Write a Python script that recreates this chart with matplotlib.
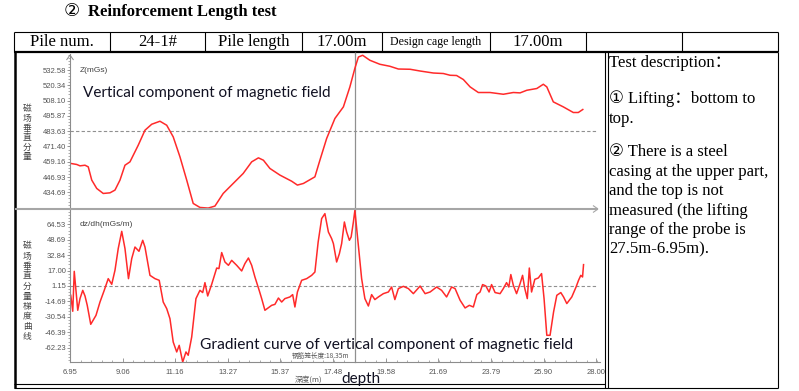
import matplotlib
matplotlib.use('Agg')
import matplotlib.pyplot as plt
from matplotlib.lines import Line2D
from matplotlib.ticker import AutoMinorLocator

W, H = 799, 391

# vertical component Z (mGs) against depth (m)
z_depth = [6.99, 7.22, 7.35, 7.55, 7.68, 7.82, 8.02, 8.28, 8.55, 8.75, 8.95, 9.15, 9.35,
           9.68, 9.95, 10.22, 10.55, 10.82, 11.08, 11.35, 11.62, 11.88, 12.15, 12.48, 12.75,
           13.08, 13.48, 13.88, 14.22, 14.49, 14.69, 14.95, 15.35, 15.82, 16.05, 16.29, 16.75,
           16.95, 17.22, 17.55, 17.89, 18.15, 18.35, 18.49, 18.66, 18.95, 19.35, 19.75, 20.09,
           20.56, 20.96, 21.49, 21.89, 22.16, 22.42, 22.69, 22.96, 23.29, 23.76, 24.29, 24.69,
           24.96, 25.23, 25.63, 25.89, 26.03, 26.29, 26.69, 27.09, 27.29, 27.47]
z_value = [457.8, 457.0, 455.9, 456.4, 455.1, 444.5, 437.8, 433.8, 434.3, 436.5, 444.5, 456.4, 459.1,
           472.4, 484.4, 489.2, 491.6, 488.4, 479.1, 463.1, 444.5, 425.8, 422.6, 422.1, 423.7,
           433.8, 441.8, 449.8, 459.1, 462.3, 460.4, 453.8, 448.5, 443.6, 440.5, 441.8, 447.1,
           460.4, 477.8, 493.8, 503.1, 519.1, 534.0, 543.0, 544.4, 540.4, 537.2, 535.6, 533.4,
           533.2, 531.8, 530.2, 529.8, 528.4, 528.2, 525.0, 519.1, 514.6, 514.6, 513.2, 514.6,
           514.3, 516.4, 517.8, 521.2, 519.1, 507.1, 503.1, 498.6, 498.6, 501.0]

# gradient dz/dh (mGs/m) against depth (m)
g_depth = [6.98, 7.06, 7.12, 7.26, 7.35, 7.46, 7.55, 7.64, 7.78, 7.99, 8.15, 8.32, 8.48, 8.62,
           8.75, 8.88, 9.02, 9.15, 9.29, 9.42, 9.55, 9.71, 9.86, 9.95, 10.15, 10.35, 10.52, 10.68,
           10.82, 10.95, 11.08, 11.22, 11.32, 11.46, 11.59, 11.68, 11.82, 11.99, 12.15, 12.26,
           12.35, 12.46, 12.62, 12.82, 12.91, 13.02, 13.15, 13.29, 13.42, 13.62, 13.82, 13.95,
           14.09, 14.22, 14.35, 14.52, 14.62, 14.75, 15.02, 15.15, 15.29, 15.42, 15.55, 15.75,
           15.86, 15.95, 16.05, 16.22, 16.42, 16.62, 16.75, 16.88, 17.02, 17.15, 17.29, 17.42,
           17.49, 17.62, 17.73, 17.82, 17.93, 18.02, 18.13, 18.20, 18.29, 18.35, 18.49, 18.62,
           18.75, 18.89, 19.02, 19.15, 19.29, 19.49, 19.69, 19.82, 19.95, 20.09, 20.29, 20.49,
           20.69, 20.96, 21.16, 21.36, 21.62, 21.82, 22.02, 22.22, 22.36, 22.56, 22.76, 22.93,
           23.09, 23.23, 23.36, 23.46, 23.59, 23.72, 23.82, 23.96, 24.16, 24.29, 24.42, 24.51,
           24.59, 24.69, 24.82, 24.96, 25.06, 25.15, 25.25, 25.33, 25.42, 25.55, 25.69, 25.82,
           25.92, 26.03, 26.16, 26.30, 26.43, 26.59, 26.70, 26.83, 27.03, 27.20, 27.30, 27.39,
           27.46, 27.50]
g_value = [-8.4, -24.8, 16.2, -23.8, -11.8, -3.3, -9.1, -18.7, -38.2, -29.0, -15.3, -3.3, 8.7, 2.9,
           17.3, 39.6, 57.3, 39.6, 8.7, 29.3, 41.2, 36.8, 48.1, 41.2, 12.1, 8.7, 7.0, -15.3,
           -22.1, -32.4, -56.4, -66.6, -59.8, -77.0, -66.6, -70.0, -51.2, -11.8, -3.3, -5.6,
           4.6, -9.1, 2.9, 19.6, 19.0, 35.5, 25.8, 22.4, 27.5, 22.4, 16.6, 24.2,
           29.9, 22.4, 10.4, -3.3, -11.8, -23.8, -18.7, -17.7, -11.2, -15.3, -11.8, -10.1,
           -7.7, -20.4, -5.0, 7.0, 8.7, 12.1, 15.5, 46.3, 70.4, 75.5, 56.6, 49.8,
           44.7, 25.8, 34.4, 44.7, 66.9, 56.6, 48.1, 51.5, 66.9, 78.9, 43.0, 8.7,
           -11.8, -19.4, -7.7, -12.8, -10.1, -6.7, -5.0, 0.1, -12.8, -1.5, 0.8, -1.5,
           -6.7, 1.1, -6.7, -5.0, 0.1, -3.3, -10.1, 0.1, -1.5, -13.5, -21.4, -18.7,
           -20.4, -7.7, -5.0, 2.6, 1.2, -5.0, 2.6, -5.6, -6.7, -1.5, 4.6, 0.1,
           12.9, 1.9, -6.7, 3.6, 12.1, -1.5, -11.8, 19.6, -5.0, 8.0, 9.4, 13.9,
           -11.8, -49.5, -49.5, -25.6, -8.4, -5.6, -10.1, -16.9, -10.1, 0.1, 7.0, 12.1,
           10.4, 23.1]

x_ticks = [6.95, 9.06, 11.16, 13.27, 15.37, 17.48, 19.58, 21.69, 23.79, 25.90, 28.00]
z_ticks = [434.69, 446.93, 459.16, 471.40, 483.63, 495.87, 508.10, 520.34, 532.58]
g_ticks = [-62.23, -46.39, -30.54, -14.69, 1.15, 17.00, 32.84, 48.69, 64.53]
z_ref = 483.63
g_ref = 1.15
cage_len = 18.35

table_cells = ['Pile num.', '24-1#', 'Pile length', '17.00m', 'Design cage length', '17.00m', '', '']
table_edges = [14, 110, 205, 302, 382, 490, 586, 682, 778]
desc_lines = ['Test description：', '① Lifting：bottom to', 'top.',
              '② There is a steel', 'casing at the upper part,', 'and the top is not',
              'measured (the lifting', 'range of the probe is', '27.5m-6.95m).']
desc_rows = [63, 99, 119, 152, 172, 191, 211, 230, 249]

red = '#ff2a2a'
axis_gray = '#8c8c8c'
label_gray = '#555555'
serif = ['Liberation Serif', 'DejaVu Sans', 'Noto Sans CJK SC']
cjk = ['Noto Sans CJK SC', 'DejaVu Sans']

fig = plt.figure(figsize=(W / 100, H / 100), dpi=100)


def fx(px):
    return px / W


def fy(py):
    return 1 - py / H


def seg(x0, y0, x1, y1, lw=1.0, color='black'):
    fig.add_artist(Line2D([fx(x0), fx(x1)], [fy(y0), fy(y1)], lw=lw, color=color,
                          solid_capstyle='butt'))


def stacked(x, y_top, step, chars, **kw):
    # vertical text written one character under the other
    for i, ch in enumerate(chars):
        fig.text(fx(x), fy(y_top + i * step), ch, ha='center', va='center', **kw)


# title and table frame
fig.text(fx(64), fy(12), '②', family=serif, fontsize=13, va='center', ha='left')
fig.text(fx(88), fy(12), 'Reinforcement Length test', family=serif, weight='bold',
         fontsize=12, va='center', ha='left')
seg(14, 32, 778, 32, 0.8)
seg(14, 52, 778, 52, 1.6)
for x in table_edges:
    seg(x, 32, x, 52, 0.8)
for i, txt in enumerate(table_cells):
    cx = (table_edges[i] + table_edges[i + 1]) / 2
    fs = 8.6 if len(txt) > 12 else 12
    fig.text(fx(cx), fy(42.5), txt, family=serif, fontsize=fs, ha='center', va='center')

seg(15, 52, 15, 388, 1.8)
seg(605, 52, 605, 388, 0.8)
seg(608, 52, 608, 388, 0.8)
seg(778, 52, 778, 388, 0.8)
seg(14, 384, 605, 384, 0.8)
seg(14, 388, 778, 388, 0.8)

for row, line in zip(desc_rows, desc_lines):
    fig.text(fx(609), fy(row), line, family=serif, fontsize=12, ha='left', va='center')

# axes geometry (pixel positions)
px_per_m = 24.99
x0_px, x1_px = 70, 600
xlim = (6.95, 6.95 + (x1_px - x0_px) / px_per_m)
z_scale = 1.2494
g_scale = 0.9735
top_px, mid_px, bot_px = 54, 209, 362

ax1 = fig.add_axes([fx(x0_px), fy(mid_px), fx(x1_px) - fx(x0_px), (mid_px - top_px) / H])
ax2 = fig.add_axes([fx(x0_px), fy(bot_px), fx(x1_px) - fx(x0_px), (bot_px - mid_px) / H])
ax1.set_xlim(xlim)
ax2.set_xlim(xlim)
ax1.set_ylim(z_ref - (mid_px - 131.2) / z_scale, z_ref + (131.2 - top_px) / z_scale)
ax2.set_ylim(g_ref - (bot_px - 286.0) / g_scale, g_ref + (286.0 - mid_px) / g_scale)
ref_end = (28.0 - xlim[0]) / (xlim[1] - xlim[0])

for ax in (ax1, ax2):
    ax.patch.set_alpha(0)
    for s in ('top', 'right'):
        ax.spines[s].set_visible(False)
    ax.spines['left'].set_color(axis_gray)
    ax.spines['left'].set_linewidth(0.8)
    ax.tick_params(axis='y', which='major', direction='out', length=2.2, width=0.6,
                   color=axis_gray, pad=0.6, labelsize=5.5, labelcolor=label_gray)
    ax.tick_params(axis='y', which='minor', direction='out', length=1.2, width=0.5,
                   color=axis_gray)
    ax.yaxis.set_minor_locator(AutoMinorLocator(5))
    ax.axvline(cage_len, color='#909090', lw=0.9, clip_on=False)

ax1.spines['bottom'].set_visible(False)
ax1.set_xticks([])
ax1.set_yticks(z_ticks)
ax1.set_yticklabels(['%.2f' % v for v in z_ticks], family='Liberation Sans')
ax1.axhline(z_ref, color='#909090', lw=0.8, ls=(0, (3, 2)), xmax=ref_end)
ax1.plot(z_depth, z_value, color=red, lw=1.1, clip_on=False)

ax2.spines['bottom'].set_color(axis_gray)
ax2.spines['bottom'].set_linewidth(0.8)
ax2.set_xticks(x_ticks)
ax2.set_xticklabels(['%.2f' % v for v in x_ticks], family='Liberation Sans')
ax2.xaxis.set_minor_locator(AutoMinorLocator(5))
ax2.tick_params(axis='x', which='major', direction='in', length=3, width=0.6,
                color=axis_gray, pad=5, labelsize=5.5, labelcolor=label_gray)
ax2.tick_params(axis='x', which='minor', direction='in', length=1.5, width=0.5, color=axis_gray)
ax2.set_yticks(g_ticks)
ax2.set_yticklabels(['%.2f' % v for v in g_ticks], family='Liberation Sans')
ax2.axhline(g_ref, color='#909090', lw=0.8, ls=(0, (3, 2)), xmax=ref_end)
ax2.plot(g_depth, g_value, color=red, lw=1.1, clip_on=False)

# divider between the two panels and the axis arrows
seg(15, 209, 598, 209, 1.5, '#a6a6a6')
seg(593, 205.5, 598, 209, 0.8, '#a6a6a6')
seg(593, 212.5, 598, 209, 0.8, '#a6a6a6')
seg(66.5, 60, 70, 55, 0.7, axis_gray)
seg(73.5, 60, 70, 55, 0.7, axis_gray)
seg(355, 52, 355, 54, 0.9, '#909090')

# small chart labels
fig.text(fx(80), fy(71), 'Z(mGs)', family='Liberation Sans', fontsize=6, color='#444444', va='center')
fig.text(fx(80), fy(224), 'dz/dh(mGs/m)', family='Liberation Sans', fontsize=6, color='#444444', va='center')
stacked(27, 109, 9.6, '磁场垂直分量', family=cjk, fontsize=6.3, color='#444444')
stacked(27, 246, 10.0, '磁场垂直分量梯度曲线', family=cjk, fontsize=6.3, color='#444444')
fig.text(fx(349), fy(356), '钢筋笼长度:18.35m', family=cjk, fontsize=4.8, color='#555555',
         ha='right', va='center')
fig.text(fx(309), fy(380), '深度(m)', family=cjk, fontsize=5.5, color='#555555',
         ha='center', va='center')

# overlaid annotations
fig.text(fx(83), fy(93), 'Vertical component of magnetic field', family='Lato', fontsize=11,
         color='#111122', va='center')
fig.text(fx(200), fy(345), 'Gradient curve of vertical component of magnetic field', family='Lato',
         fontsize=11.2, color='#111122', va='center')
fig.text(fx(341), fy(379), 'depth', family='Lato', fontsize=11, color='#111122', va='center')

fig.savefig('out.png', dpi=100)
